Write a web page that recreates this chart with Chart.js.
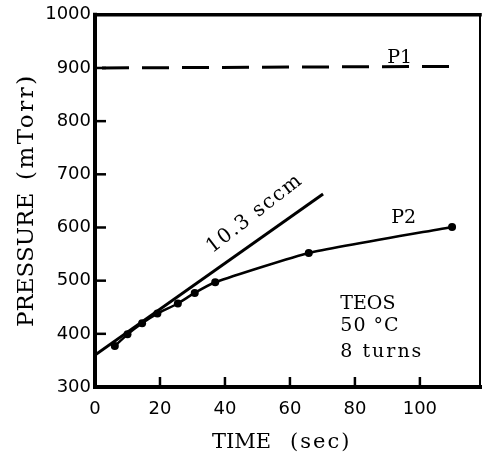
<!DOCTYPE html>
<html>
<head>
<meta charset="utf-8">
<script src="https://cdn.jsdelivr.net/npm/chart.js@4"></script>
<style>
  html, body { margin: 0; padding: 0; background: #fff; }
  canvas { display: block; }
</style>
</head>
<body>
<canvas id="pressureChart" width="484" height="457"></canvas>
<script>
// Chamber pressure vs time, TEOS at 50 C

// P2 measured points
const timeP2 = [6.1, 10, 14.5, 19.2, 25.5, 30.7, 37, 65.8, 109.9];
const pressP2 = [377, 399, 420, 438, 457, 477, 497, 552, 601];

// P1 (dashed, roughly constant)
const timeP1 = [0, 110];
const pressP1 = [900, 903];

// initial rise line, 10.3 sccm
const timeRate = [0, 70.2];
const pressRate = [360, 663];

// axis ranges / ticks
const xRange = [0, 118.5];
const yRange = [300, 1000];
const xStep = 20;
const yStep = 100;

const toPoints = (xs, ys) => xs.map((x, i) => ({ x: x, y: ys[i] }));

const serif = "'DejaVu Serif', serif";

// draws the box, inward ticks, axis titles and text labels
const framePlugin = {
  id: "frame",
  afterDraw(chart) {
    const ctx = chart.ctx;
    const a = chart.chartArea;
    const xs = chart.scales.x;
    const ys = chart.scales.y;

    ctx.save();
    ctx.strokeStyle = "#000";
    ctx.fillStyle = "#000";
    ctx.lineCap = "square";

    // box
    ctx.lineWidth = 4;
    ctx.beginPath();
    ctx.moveTo(a.left, a.top);
    ctx.lineTo(a.left, a.bottom);
    ctx.lineTo(a.right, a.bottom);
    ctx.stroke();
    ctx.lineWidth = 3.5;
    ctx.beginPath();
    ctx.moveTo(a.left, a.top);
    ctx.lineTo(a.right, a.top);
    ctx.stroke();
    ctx.lineWidth = 2;
    ctx.beginPath();
    ctx.moveTo(a.right, a.top);
    ctx.lineTo(a.right, a.bottom);
    ctx.stroke();

    // inward ticks
    ctx.lineWidth = 2.5;
    ctx.lineCap = "butt";
    xs.ticks.forEach((t) => {
      if (t.value <= xRange[0]) return;
      const px = xs.getPixelForValue(t.value);
      ctx.beginPath();
      ctx.moveTo(px, a.bottom);
      ctx.lineTo(px, a.bottom - 10);
      ctx.stroke();
    });
    ys.ticks.forEach((t) => {
      if (t.value <= yRange[0] || t.value >= yRange[1]) return;
      const py = ys.getPixelForValue(t.value);
      ctx.beginPath();
      ctx.moveTo(a.left, py);
      ctx.lineTo(a.left + 11, py);
      ctx.stroke();
    });

    // axis titles
    ctx.textBaseline = "alphabetic";
    ctx.textAlign = "left";
    ctx.font = "21px " + serif;
    ctx.fillText("TIME", 212, 448);
    ctx.letterSpacing = "2px";
    ctx.fillText("(sec)", 290, 448);
    ctx.letterSpacing = "0px";

    ctx.save();
    ctx.translate(33, 327);
    ctx.rotate(-Math.PI / 2);
    ctx.font = "23px " + serif;
    ctx.fillText("PRESSURE", 0, 0);
    ctx.letterSpacing = "2.5px";
    ctx.fillText("(mTorr)", 147, 0);
    ctx.restore();
    ctx.letterSpacing = "0px";

    // curve labels
    ctx.font = "19px " + serif;
    ctx.textAlign = "center";
    ctx.fillText("P1", xs.getPixelForValue(93.8), ys.getPixelForValue(909));
    ctx.fillText("P2", xs.getPixelForValue(95), ys.getPixelForValue(609));

    ctx.save();
    ctx.translate(xs.getPixelForValue(36.1), ys.getPixelForValue(551));
    ctx.rotate((-38 * Math.PI) / 180);
    ctx.textAlign = "left";
    ctx.font = "20px " + serif;
    ctx.letterSpacing = "1.5px";
    ctx.fillText("10.3 sccm", 0, 0);
    ctx.restore();

    // conditions
    ctx.textAlign = "left";
    ctx.font = "19px " + serif;
    const tx = xs.getPixelForValue(75.5);
    ctx.fillText("TEOS", tx, ys.getPixelForValue(447));
    ctx.letterSpacing = "1px";
    ctx.fillText("50 °C", tx, ys.getPixelForValue(406));
    ctx.letterSpacing = "2px";
    ctx.fillText("8 turns", tx, ys.getPixelForValue(356));
    ctx.letterSpacing = "0px";

    ctx.restore();
  },
};

const tickFont = { family: "'DejaVu Sans', sans-serif", size: 18 };

new Chart(document.getElementById("pressureChart"), {
  type: "scatter",
  data: {
    datasets: [
      {
        label: "P1",
        data: toPoints(timeP1, pressP1),
        showLine: true,
        borderColor: "#000",
        borderWidth: 3,
        borderDash: [27, 13],
        borderDashOffset: 33,
        pointRadius: 0,
      },
      {
        label: "10.3 sccm",
        data: toPoints(timeRate, pressRate),
        showLine: true,
        borderColor: "#000",
        borderWidth: 3,
        pointRadius: 0,
      },
      {
        label: "P2",
        data: toPoints(timeP2, pressP2),
        showLine: true,
        borderColor: "#000",
        borderWidth: 2.5,
        tension: 0.15,
        pointRadius: 4,
        pointBackgroundColor: "#000",
        pointBorderColor: "#000",
        pointBorderWidth: 0,
      },
    ],
  },
  options: {
    responsive: false,
    animation: false,
    layout: { padding: { top: 10, right: 3, left: 0, bottom: 0 } },
    plugins: {
      legend: { display: false },
      tooltip: { enabled: false },
    },
    scales: {
      x: {
        type: "linear",
        min: xRange[0],
        max: xRange[1],
        afterFit: (scale) => {
          scale.height = 70;
        },
        grid: { display: false, drawTicks: false },
        border: { display: false },
        ticks: {
          stepSize: xStep,
          includeBounds: false,
          padding: 12,
          maxRotation: 0,
          color: "#000",
          font: tickFont,
          callback: (v) => String(v),
        },
      },
      y: {
        type: "linear",
        min: yRange[0],
        max: yRange[1],
        afterFit: (scale) => {
          scale.width = 95;
        },
        grid: { display: false, drawTicks: false },
        border: { display: false },
        ticks: {
          stepSize: yStep,
          padding: 4,
          color: "#000",
          font: tickFont,
          callback: (v) => String(v),
        },
      },
    },
  },
  plugins: [framePlugin],
});
</script>
</body>
</html>
